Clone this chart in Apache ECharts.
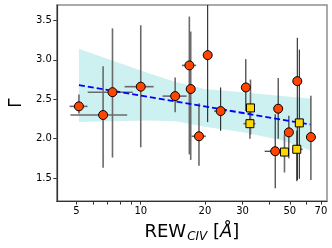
<!DOCTYPE html>
<html>
<head>
<meta charset="utf-8">
<script src="https://cdn.jsdelivr.net/npm/echarts@6/dist/echarts.min.js"></script>
<style>html,body{margin:0;padding:0;background:#fff}#c{width:332px;height:248px}</style>
</head>
<body>
<div id="c"></div>
<script>
// ---- data ----
// red circles, grey error bars
const redA_REW   = [5.13, 6.66, 7.37, 10.0, 14.5, 16.9, 17.15, 18.75];
const redA_REWlo = [4.64, 4.68, 5.64, 8.4, 12.66, 15.6, 17.15, 17.3];
const redA_REWhi = [5.63, 8.64, 9.17, 11.5, 16.4, 18.2, 17.15, 20.2];
const redA_G     = [2.41, 2.30, 2.59, 2.66, 2.54, 2.93, 2.63, 2.03];
const redA_Glo   = [2.32, 1.63, 1.76, 1.89, 2.335, 1.80, 1.73, 1.656];
const redA_Ghi   = [2.56, 2.92, 3.40, 3.44, 2.775, 3.55, 3.36, 2.45];
// red circles, black error bars
const redB_REW   = [20.6, 23.7, 31.1, 44.1, 42.7, 49.5, 54.2, 62.8];
const redB_REWlo = [20.6, 22.1, 31.1, 44.1, 38.1, 49.5, 54.2, 62.8];
const redB_REWhi = [20.6, 24.9, 31.1, 44.1, 45.5, 49.5, 54.2, 62.8];
const redB_G     = [3.06, 2.35, 2.65, 2.38, 1.84, 2.08, 2.73, 2.02];
const redB_Glo   = [2.21, 2.10, 2.35, 2.00, 1.37, 1.75, 1.475, 1.475];
const redB_Ghi   = [4.00, 2.65, 3.01, 2.77, 2.31, 2.29, 3.28, 2.545];
// yellow squares, grey error bars
const sqA_REW   = [32.7, 32.5, 47.2, 53.9];
const sqA_REWlo = [32.7, 30.3, 47.2, 51.3];
const sqA_REWhi = [32.7, 34.5, 47.2, 57.4];
const sqA_G     = [2.39, 2.19, 1.83, 1.865];
const sqA_Glo   = [2.05, 2.00, 1.57, 1.46];
const sqA_Ghi   = [2.75, 2.40, 2.05, 2.10];
// yellow squares, black error bars
const sqB_REW   = [55.4];
const sqB_REWlo = [55.4];
const sqB_REWhi = [55.4];
const sqB_G     = [2.20];
const sqB_Glo   = [1.49];
const sqB_Ghi   = [3.13];
// regression line and confidence band
const fitREW   = [5.13, 62.5];
const fitG     = [2.68, 2.18];
const bandREW   = [5.13, 7.0, 10.9, 14.6, 19.9, 30.2, 45.7, 62.5];
const bandUpper = [3.14, 3.01, 2.83, 2.72, 2.63, 2.59, 2.54, 2.51];
const bandLower = [2.21, 2.22, 2.23, 2.22, 2.15, 2.08, 1.98, 1.85];
// ticks
const xLabelVals = [5, 10, 20, 30, 50, 70];
const xTickVals  = [5, 6, 7, 8, 9, 10, 20, 30, 40, 50, 60, 70];
const yTickVals  = [1.5, 2.0, 2.5, 3.0, 3.5];

const FONT = 'DejaVu Sans';

function errSeries(xs, xlo, xhi, ys, ylo, yhi, color, width) {
  const data = xs.map((x, i) => [x, ys[i], xlo[i], xhi[i], ylo[i], yhi[i]]);
  return {
    type: 'custom', data: data, z: 2, silent: true, clip: true,
    encode: { x: 0, y: 1 },
    renderItem: function (params, api) {
      const x = api.value(0), y = api.value(1);
      const p0 = api.coord([api.value(2), y]), p1 = api.coord([api.value(3), y]);
      const q0 = api.coord([x, api.value(4)]), q1 = api.coord([x, api.value(5)]);
      const st = { stroke: color, lineWidth: width };
      const ch = [{ type: 'line', shape: { x1: q0[0], y1: q0[1], x2: q1[0], y2: q1[1] }, style: st }];
      if (api.value(2) !== api.value(3)) {
        ch.push({ type: 'line', shape: { x1: p0[0], y1: p0[1], x2: p1[0], y2: p1[1] }, style: st });
      }
      return { type: 'group', children: ch };
    }
  };
}
function pts(xs, ys) { return xs.map((x, i) => [x, ys[i]]); }

const chart = echarts.init(document.getElementById('c'), null, { renderer: 'canvas' });
chart.setOption({
  animation: false,
  backgroundColor: '#fff',
  grid: { left: 47, right: 5, top: 5, bottom: 45, show: true, borderColor: '#8f8f8f', borderWidth: 1.5, backgroundColor: '#fff' },
  xAxis: {
    type: 'log', logBase: 10, min: 4.04, max: 74.7,
    name: '{a|REW}{b|CIV}{a| [}{c|Å}{a|]}',
    nameLocation: 'middle', nameGap: 18,
    nameTextStyle: {
      rich: {
        a: { fontFamily: FONT, fontSize: 18, color: '#000', lineHeight: 22 },
        b: { fontFamily: FONT, fontSize: 12, fontStyle: 'italic', color: '#000', lineHeight: 12, verticalAlign: 'top', padding: [10, 0, 0, 1] },
        c: { fontFamily: FONT, fontSize: 18, fontStyle: 'italic', color: '#000', lineHeight: 22 }
      }
    },
    axisLine: { show: true, lineStyle: { color: '#333', width: 1.2 } },
    axisTick: { show: true, inside: false, length: 3.5, customValues: xTickVals, lineStyle: { color: '#333' } },
    axisLabel: { customValues: xLabelVals, margin: 5, fontFamily: FONT, fontSize: 10, color: '#000', formatter: v => String(Math.round(v)) },
    splitLine: { show: false }, minorTick: { show: false }
  },
  yAxis: {
    type: 'value', min: 1.207, max: 3.697,
    name: 'Γ', nameLocation: 'middle', nameGap: 25, nameRotate: 90,
    nameTextStyle: { fontFamily: FONT, fontSize: 17, color: '#000' },
    axisLine: { show: true, lineStyle: { color: '#333', width: 1.2 } },
    axisTick: { show: true, length: 3.5, customValues: yTickVals, lineStyle: { color: '#333' } },
    axisLabel: { customValues: yTickVals, margin: 5, fontFamily: FONT, fontSize: 10, color: '#000', formatter: v => v.toFixed(1) },
    splitLine: { show: false }
  },
  series: [
    {
      type: 'custom', data: [[bandREW[0], bandUpper[0]]], z: 1, silent: true, clip: true,
      renderItem: function (params, api) {
        const poly = [];
        for (let i = 0; i < bandREW.length; i++) poly.push(api.coord([bandREW[i], bandUpper[i]]));
        for (let i = bandREW.length - 1; i >= 0; i--) poly.push(api.coord([bandREW[i], bandLower[i]]));
        return { type: 'polygon', shape: { points: poly }, style: { fill: '#cdf1f0', stroke: null } };
      }
    },
    errSeries(redA_REW, redA_REWlo, redA_REWhi, redA_G, redA_Glo, redA_Ghi, '#6a6a6a', 1.6),
    errSeries(sqA_REW, sqA_REWlo, sqA_REWhi, sqA_G, sqA_Glo, sqA_Ghi, '#6a6a6a', 1.6),
    errSeries(redB_REW, redB_REWlo, redB_REWhi, redB_G, redB_Glo, redB_Ghi, '#111', 1),
    errSeries(sqB_REW, sqB_REWlo, sqB_REWhi, sqB_G, sqB_Glo, sqB_Ghi, '#111', 1),
    {
      type: 'line', data: pts(fitREW, fitG), z: 3, symbol: 'none', silent: true,
      lineStyle: { color: '#0000ff', width: 1.8, type: [6, 3] }
    },
    {
      type: 'scatter', data: pts(redA_REW, redA_G).concat(pts(redB_REW, redB_G)), z: 4,
      symbol: 'circle', symbolSize: 9,
      itemStyle: { color: '#ff4500', borderColor: '#000', borderWidth: 1, opacity: 1 }
    },
    {
      type: 'scatter', data: pts(sqA_REW, sqA_G).concat(pts(sqB_REW, sqB_G)), z: 4,
      symbol: 'rect', symbolSize: 8,
      itemStyle: { color: '#ffd700', borderColor: '#000', borderWidth: 1, opacity: 1 }
    }
  ]
});
</script>
</body>
</html>
